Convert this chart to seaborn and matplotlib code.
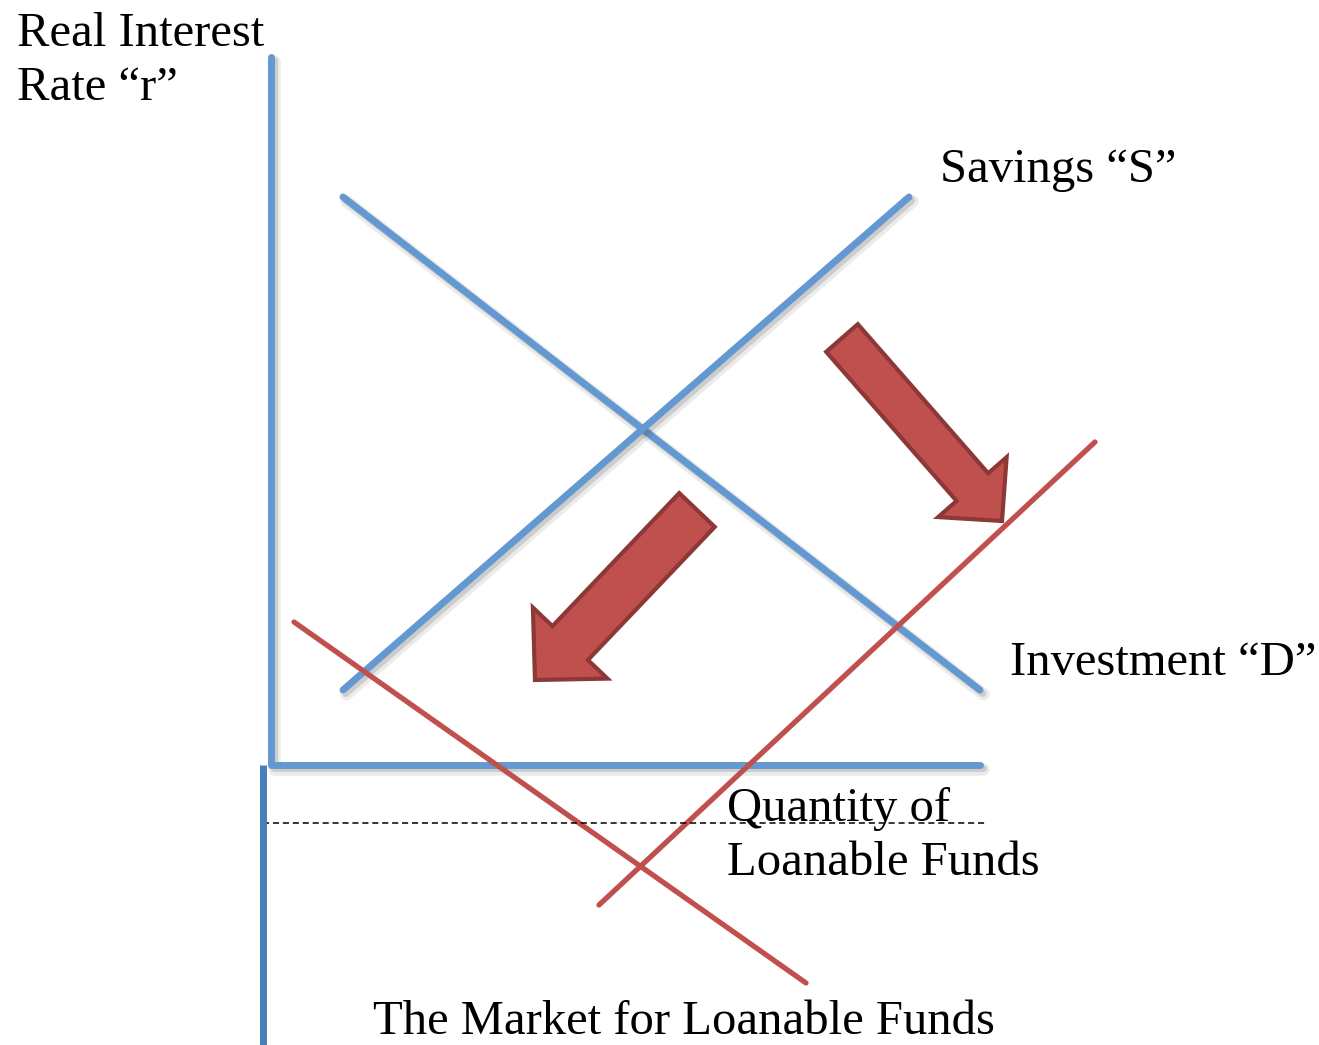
import matplotlib
matplotlib.use('Agg')
import matplotlib.pyplot as plt
import matplotlib.patheffects as pe
from matplotlib.patches import FancyArrow
import seaborn as sns
import pandas as pd

# diagram geometry in pixel space (x right, y down)
axis_x = [271, 271, 980]
axis_y = [57, 765, 765]

savings_x = [343, 909]
savings_y = [690, 197]
invest_x = [343, 980]
invest_y = [197, 690]

red_down_x = [294, 806]
red_down_y = [622, 983]
red_up_x = [599, 1095]
red_up_y = [905, 442]

dash_x = [263, 985]
dash_y = [823, 823]
bar_x = [263, 263]
bar_y = [765, 1045]

# block arrows: tail centre, tip, shaft width, head width, head length
arrow_tail = [(697, 510), (842, 338)]
arrow_tip = [(535, 680), (1002, 521)]
arrow_width = [49, 42]
arrow_head_w = [103, 91]
arrow_head_l = [51, 45]

labels = ['Real Interest\nRate \u201cr\u201d', 'Savings \u201cS\u201d', 'Investment \u201cD\u201d',
          'Quantity of\nLoanable Funds', 'The Market for Loanable Funds']
label_x = [17, 940, 1010, 727, 373]
label_y = [61, 170, 663, 836, 1022]

blue = '#6398D0'
dark_blue = '#4A7EBB'
red = '#C0504D'
red_edge = '#8C3836'

sns.set_theme(style='white')
plt.rcParams['font.family'] = ['Liberation Serif', 'DejaVu Serif']

fig = plt.figure(figsize=(13.19, 10.45), dpi=100)
ax = fig.add_axes([0, 0, 1, 1])

# soft grey drop shadow under the blue lines
shadow = [pe.SimpleLineShadow(offset=(2.5, -3), alpha=0.10, shadow_color='#444444', linewidth=9),
          pe.SimpleLineShadow(offset=(2, -2.5), alpha=0.18, shadow_color='#444444'),
          pe.Normal()]

blue_lines = pd.concat([
    pd.DataFrame({'x': axis_x, 'y': axis_y, 'line': 'axes'}),
    pd.DataFrame({'x': savings_x, 'y': savings_y, 'line': 'S'}),
    pd.DataFrame({'x': invest_x, 'y': invest_y, 'line': 'D'}),
])
sns.lineplot(data=blue_lines, x='x', y='y', units='line', estimator=None, sort=False,
             color=blue, linewidth=5, ax=ax, path_effects=shadow)

red_lines = pd.concat([
    pd.DataFrame({'x': red_down_x, 'y': red_down_y, 'line': 'a'}),
    pd.DataFrame({'x': red_up_x, 'y': red_up_y, 'line': 'b'}),
])
sns.lineplot(data=red_lines, x='x', y='y', units='line', estimator=None, sort=False,
             color=red, linewidth=3.8, ax=ax)

ax.plot(dash_x, dash_y, color='black', linewidth=1.1, linestyle=(0, (4, 2.5)))
ax.plot(bar_x, bar_y, color=dark_blue, linewidth=5, solid_capstyle='butt')

for (tx, ty), (hx, hy), w, hw, hl in zip(arrow_tail, arrow_tip, arrow_width, arrow_head_w, arrow_head_l):
    ax.add_patch(FancyArrow(tx, ty, hx - tx, hy - ty, width=w, head_width=hw, head_length=hl,
                            length_includes_head=True, facecolor=red, edgecolor=red_edge,
                            linewidth=3, joinstyle='miter', zorder=5))

for txt, x, y in zip(labels, label_x, label_y):
    ax.text(x, y, txt, fontsize=35, ha='left', va='center', color='black', linespacing=1.3)

ax.set_xlim(0, 1319)
ax.set_ylim(1045, 0)
ax.axis('off')

fig.savefig('out.png', dpi=100)
